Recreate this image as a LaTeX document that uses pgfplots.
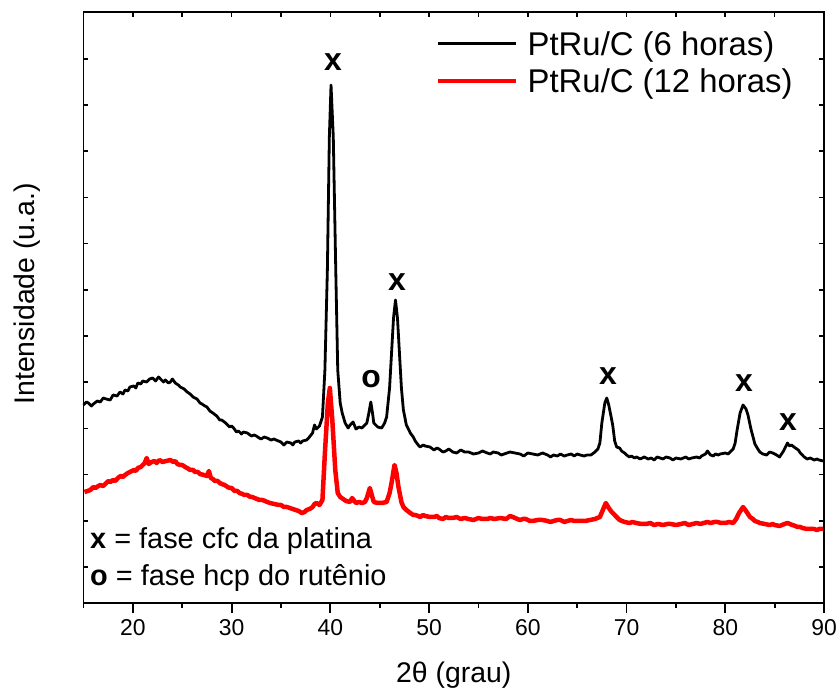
\documentclass[border=0pt]{standalone}
\usepackage{fontspec}
\setmainfont{Liberation Sans}
\usepackage{pgfplots}
\pgfplotsset{compat=1.18}
\begin{document}
\begin{tikzpicture}
\useasboundingbox (-83.5bp,-90bp) rectangle (755.5bp,603bp);
\begin{axis}[
  at={(0,0)}, anchor=south west,
  scale only axis, width=740.5bp, height=591bp,
  xmin=15, xmax=90, ymin=0, ymax=591,
  xtick={20,25,...,85}, xtick pos=right, xticklabels={},
  ytick={36,82.2,...,545}, ytick pos=both, yticklabels={},
  tick align=inside, major tick length=5bp,
  axis line style={line width=1.6bp},
  xtick style={black, line width=1.6bp},
  ytick style={black, line width=1.6bp},
]
\end{axis}
\begin{axis}[
  at={(0,0)}, anchor=south west,
  scale only axis, width=740.5bp, height=591bp,
  xmin=15, xmax=90, ymin=0, ymax=591,
  xtick={20,30,...,90}, minor xtick={15,25,...,85},
  xtick pos=left, tick align=outside,
  major tick length=10bp, minor tick length=5bp,
  ytick=\empty,
  axis line style={line width=1.6bp},
  xtick style={black, line width=1.8bp},
  /pgf/number format/assume math mode=true,
  xticklabel style={font=\fontsize{23}{23}\selectfont, yshift=-3bp},
  xlabel={2θ (grau)},
  xlabel style={font=\fontsize{28.5}{30}\selectfont, at={(axis description cs:0.5,0)}, anchor=base, yshift=-79bp},
  ylabel={Intensidade (u.a.)},
  ylabel style={font=\fontsize{28.5}{30}\selectfont, at={(axis description cs:-0.0756,0.523)}, anchor=center},
  legend style={draw=none, fill=none, inner sep=0pt, at={(rel axis cs:0.476,0.9695)}, anchor=north west,
    font=\fontsize{33}{36}\selectfont, nodes={inner sep=1bp}, column sep=8bp, row sep=10bp},
  legend cell align=left,
  legend image code/.code={\draw[#1] (0bp,0bp) -- (78bp,0bp);},
  clip=false,
]
\addplot[black, line width=2.8bp, line join=round] coordinates {
(15.0,198) (15.3,201) (15.5,200) (15.8,197) (16.0,199) (16.4,202) (16.7,201) (17.0,205) (17.3,204) (17.7,203) (18.0,208) (18.4,207) (18.7,211) (19.0,209) (19.2,213) (19.5,212) (19.7,216) (20.1,217) (20.3,215) (20.5,220) (20.8,219) (21.0,222) (21.4,221) (21.7,224) (22.0,225) (22.3,222) (22.6,226) (22.8,224) (23.1,221) (23.3,223) (23.6,220) (23.8,221) (24.0,224) (24.3,220) (24.6,218) (24.8,216) (25.2,214) (25.5,211) (25.8,209) (26.1,206) (26.5,204) (26.8,200) (27.0,199) (27.3,197) (27.5,196) (27.8,192) (28.1,190) (28.5,187) (28.8,183) (29.0,183) (29.4,180) (29.8,176) (30.0,177) (30.2,175) (30.5,171) (30.7,172) (31.0,169) (31.2,171) (31.6,170) (32.0,167) (32.3,168) (32.5,167) (32.8,165) (33.0,164) (33.3,166) (33.6,165) (34.0,163) (34.3,164) (34.5,163) (35.0,161) (35.3,158) (35.6,161) (36.0,160) (36.2,158) (36.4,161) (36.8,162) (37.0,160) (37.2,162) (37.6,163) (37.8,165) (38.2,170) (38.4,178) (38.6,174) (38.9,177) (39.2,186) (39.45,233) (39.7,333) (39.9,466) (40.07,518) (40.3,466) (40.55,333) (40.75,233) (41.0,200) (41.2,190) (41.5,180) (41.8,175) (42.0,178) (42.3,181) (42.6,174) (42.9,176) (43.2,175) (43.5,178) (43.7,180) (43.9,190) (44.1,201) (44.3,188) (44.4,180) (44.8,176) (45.2,175) (45.5,180) (45.7,186) (46.0,215) (46.2,250) (46.4,285) (46.6,303) (46.8,285) (47.0,250) (47.2,215) (47.4,193) (47.7,178) (48.1,170) (48.4,166) (48.6,162) (48.9,158) (49.1,156) (49.4,158) (49.6,157) (50.1,156) (50.5,153) (50.8,155) (51.0,154) (51.4,151) (51.7,152) (52.0,154) (52.4,151) (52.8,150) (53.2,153) (53.6,151) (54.0,151) (54.5,149) (55.0,150) (55.4,152) (55.9,150) (56.2,149) (56.5,151) (57.0,150) (57.3,148) (57.6,149) (58.2,151) (58.7,150) (59.2,149) (59.6,147) (60.0,150) (60.5,149) (61.0,148) (61.5,150) (62.0,148) (62.3,146) (62.6,148) (63.0,147) (63.3,149) (63.7,147) (64.0,148) (64.4,149) (64.7,147) (65.0,149) (65.3,148) (65.7,147) (66.0,148) (66.4,148) (66.8,151) (67.1,154) (67.3,160) (67.5,180) (67.8,200) (68.0,205) (68.2,198) (68.4,188) (68.6,178) (68.8,162) (69.0,156) (69.3,155) (69.5,152) (69.8,150) (70.0,148) (70.3,146) (70.5,147) (70.8,145) (71.0,146) (71.4,144) (71.8,146) (72.2,144) (72.5,145) (72.8,143) (73.1,146) (73.4,145) (73.7,144) (74.0,146) (74.4,145) (74.7,143) (75.0,145) (75.5,144) (76.0,146) (76.3,144) (76.6,145) (77.1,146) (77.4,145) (77.6,147) (78.0,149) (78.2,152) (78.5,148) (78.8,147) (79.0,149) (79.3,148) (79.5,149) (80.0,150) (80.3,149) (80.5,151) (80.8,154) (81.0,160) (81.2,173) (81.5,190) (81.8,198) (82.1,194) (82.3,188) (82.6,174) (83.0,159) (83.3,154) (83.5,151) (83.8,149) (84.2,148) (84.5,151) (84.8,150) (85.2,148) (85.5,146) (85.9,152) (86.3,160) (86.5,157) (86.7,158) (87.1,155) (87.4,153) (87.6,150) (88.0,146) (88.3,144) (88.6,145) (89.0,143) (89.3,144) (89.5,143) (89.9,142)
};
\addlegendentry{PtRu/C (6 horas)}
\addplot[red, line width=4.5bp, line join=round] coordinates {
(15.1,111) (15.4,112) (15.7,113) (16.0,116) (16.2,115) (16.5,117) (16.7,118) (17.0,117) (17.3,120) (17.5,122) (17.7,121) (18.0,123) (18.2,122) (18.4,124) (18.6,126) (18.8,127) (19.0,126) (19.2,128) (19.5,130) (19.7,131) (20.1,133) (20.3,132) (20.5,135) (20.8,136) (21.0,138) (21.2,140) (21.4,145) (21.6,139) (21.9,141) (22.2,142) (22.4,140) (22.7,143) (23.0,141) (23.4,142) (23.8,143) (24.1,141) (24.3,142) (24.5,139) (24.8,138) (25.0,138) (25.3,136) (25.5,135) (25.8,133) (26.1,133) (26.3,131) (26.6,131) (26.8,129) (27.2,128) (27.5,127) (27.7,132) (27.9,125) (28.1,124) (28.3,122) (28.6,122) (28.8,120) (29.0,119) (29.3,118) (29.6,116) (29.8,115) (30.0,115) (30.3,112) (30.6,112) (30.8,110) (31.1,109) (31.3,108) (31.6,108) (31.9,106) (32.1,106) (32.3,105) (32.6,104) (32.8,103) (33.1,103) (33.4,102) (33.6,101) (33.9,100) (34.3,99) (34.8,98) (35.0,98) (35.3,96) (35.6,96) (35.9,95) (36.2,94) (36.5,93) (36.8,92) (37.1,90) (37.4,91) (37.6,93) (37.9,94) (38.2,96) (38.4,99) (38.6,100) (38.9,98) (39.2,103) (39.45,150) (39.75,200) (39.95,215) (40.2,183) (40.5,133) (40.75,110) (41.0,106) (41.3,104) (41.6,102) (42.0,101) (42.2,105) (42.6,100) (42.9,101) (43.2,100) (43.5,101) (43.7,105) (44.0,115) (44.2,108) (44.4,101) (44.8,100) (45.2,100) (45.7,101) (46.0,110) (46.2,120) (46.5,138) (46.7,130) (46.9,116) (47.2,101) (47.4,96) (47.7,93) (48.1,90) (48.4,88) (48.6,88) (48.9,87) (49.1,86) (49.4,88) (49.6,87) (50.1,86) (50.5,86) (50.8,87) (51.0,85) (51.4,84) (51.7,86) (52.0,85) (52.4,85) (52.8,86) (53.2,84) (53.6,85) (54.0,84) (54.5,83) (55.0,85) (55.4,84) (55.9,84) (56.2,85) (56.6,84) (57.2,85) (57.8,84) (58.2,87) (58.5,86) (58.7,85) (59.2,83) (59.5,84) (59.8,84) (60.2,82) (60.5,82) (61.0,83) (61.5,83) (62.0,82) (62.3,81) (62.6,82) (63.0,83) (63.3,83) (63.7,81) (64.0,82) (64.4,83) (64.7,82) (65.3,82) (65.8,82) (66.3,83) (66.8,84) (67.3,86) (67.6,93) (67.9,100) (68.2,95) (68.5,91) (69.0,86) (69.3,83) (69.8,81) (70.3,80) (70.6,81) (71.0,80) (71.5,79) (72.0,79) (72.4,80) (72.8,78) (73.2,79) (73.7,78) (74.1,79) (74.5,79) (75.0,78) (75.5,79) (75.9,80) (76.3,78) (76.7,79) (77.1,80) (77.5,79) (77.8,80) (78.2,81) (78.5,80) (78.9,81) (79.2,81) (79.6,80) (80.0,80) (80.4,81) (80.8,80) (81.1,84) (81.4,90) (81.8,96) (82.1,92) (82.5,86) (82.8,84) (83.0,82) (83.3,81) (83.5,80) (84.0,79) (84.5,78) (84.8,79) (85.0,78) (85.5,77) (86.0,79) (86.3,80) (86.8,78) (87.1,77) (87.3,76) (87.6,76) (87.8,75) (88.3,74) (88.6,74) (89.0,74) (89.3,73) (89.5,74) (89.9,74)
};
\addlegendentry{PtRu/C (12 horas)}
\node[font=\fontsize{32}{32}\selectfont\bfseries] at (axis cs:40.27,541) {x};
\node[font=\fontsize{32}{32}\selectfont\bfseries] at (axis cs:46.75,321) {x};
\node[font=\fontsize{32}{32}\selectfont\bfseries] at (axis cs:44.12,224) {o};
\node[font=\fontsize{32}{32}\selectfont\bfseries] at (axis cs:68.12,227) {x};
\node[font=\fontsize{32}{32}\selectfont\bfseries] at (axis cs:81.9,220) {x};
\node[font=\fontsize{32}{32}\selectfont\bfseries] at (axis cs:86.36,181) {x};
\node[font=\fontsize{29}{29}\selectfont, anchor=base west, inner sep=0pt] at (axis cs:15.66,55) {\textbf{x} = fase cfc da platina};
\node[font=\fontsize{29}{29}\selectfont, anchor=base west, inner sep=0pt] at (axis cs:15.66,18) {\textbf{o} = fase hcp do rutênio};
\end{axis}
\end{tikzpicture}
\end{document}
